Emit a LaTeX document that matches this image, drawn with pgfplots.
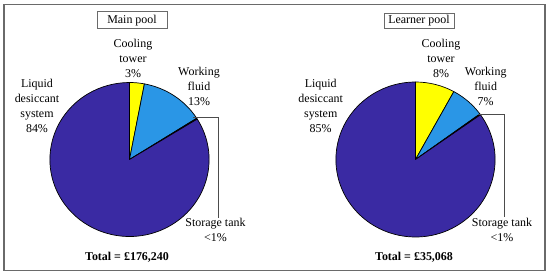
\documentclass[border=0pt]{standalone}
\usepackage{fontspec}
\setmainfont{Liberation Serif}
\usepackage{pgfplots}
\usepackage{pgfplotstable}
\pgfplotsset{compat=1.18}

\definecolor{pieyellow}{HTML}{FFFF00}
\definecolor{pieblue}{HTML}{2A96E6}
\definecolor{piepurple}{HTML}{3A2AA3}
\definecolor{framegray}{HTML}{6A6A6A}

% shares in percent, clockwise from 12 o'clock
\pgfplotstableread{
part share color
cooling 3 pieyellow
fluid 13 pieblue
storage 0.2 piepurple
desiccant 83.8 piepurple
}\mainpool

\pgfplotstableread{
part share color
cooling 8 pieyellow
fluid 7 pieblue
storage 0.2 piepurple
desiccant 84.8 piepurple
}\learnerpool

% #1 table, #2 cx, #3 cy, #4 x radius, #5 y radius
\newcommand\drawpie[5]{%
  \def\pieangle{90}%
  \pgfplotstablegetrowsof{#1}%
  \pgfmathtruncatemacro\pielast{\pgfplotsretval-1}%
  \pgfplotsforeachungrouped \i in {0,...,\pielast}{%
    \pgfplotstablegetelem{\i}{share}\of{#1}%
    \pgfmathsetmacro\pieend{\pieangle-3.6*\pgfplotsretval}%
    \pgfplotstablegetelem{\i}{color}\of{#1}%
    \edef\pieslice{\noexpand\filldraw[fill=\pgfplotsretval, draw=black,
        line width=0.7pt, line join=round]
      (axis cs:#2,#3) -- ++(\pieangle:#4bp and #5bp)
      arc[start angle=\pieangle, end angle=\pieend, x radius=#4bp, y radius=#5bp]
      -- cycle;}%
    \pieslice
    \let\pieangle\pieend
  }%
}

\begin{document}
\begin{tikzpicture}[every node/.style={font=\fontsize{12}{15}\selectfont, align=center, inner sep=0pt}]
\begin{axis}[
    width=550bp, height=276bp, scale only axis,
    xmin=0, xmax=550, ymin=0, ymax=276,
    y dir=reverse,
    hide axis, clip=false,
]
\path (axis cs:0,0) rectangle (axis cs:550,276);
\draw[framegray, line width=1.2bp] (axis cs:4,4.5) rectangle (axis cs:545,270.7);

% main pool
\drawpie{\mainpool}{129.5}{159.5}{79.6}{77}
\node[draw=framegray, line width=0.8bp, minimum width=70bp, minimum height=17bp]
  at (axis cs:132,20.3) {Main pool};
\node at (axis cs:133,58) {Cooling\\tower\\3\%};
\node at (axis cs:199,86) {Working\\fluid\\13\%};
\node at (axis cs:37,106) {Liquid\\desiccant\\system\\84\%};
\node at (axis cs:215.5,230) {Storage tank\\<1\%};
\draw[black!70, line width=0.7bp] (axis cs:193,117) -- (axis cs:218,117) -- (axis cs:218,218);
\node[font=\fontsize{12}{15}\selectfont\bfseries] at (axis cs:127,257) {Total = £176,240};

% learner pool
\drawpie{\learnerpool}{415.5}{159.5}{79.6}{77.5}
\node[draw=framegray, line width=0.8bp, minimum width=70bp, minimum height=15bp]
  at (axis cs:419,21) {Learner pool};
\node at (axis cs:441,58) {Cooling\\tower\\8\%};
\node at (axis cs:485.7,86) {Working\\fluid\\7\%};
\node at (axis cs:320.7,106) {Liquid\\desiccant\\system\\85\%};
\node at (axis cs:502,230) {Storage tank\\<1\%};
\draw[black!70, line width=0.7bp] (axis cs:478,114) -- (axis cs:504.3,114) -- (axis cs:504.3,217);
\node[font=\fontsize{12}{15}\selectfont\bfseries] at (axis cs:414,257) {Total = £35,068};
\end{axis}
\end{tikzpicture}
\end{document}
